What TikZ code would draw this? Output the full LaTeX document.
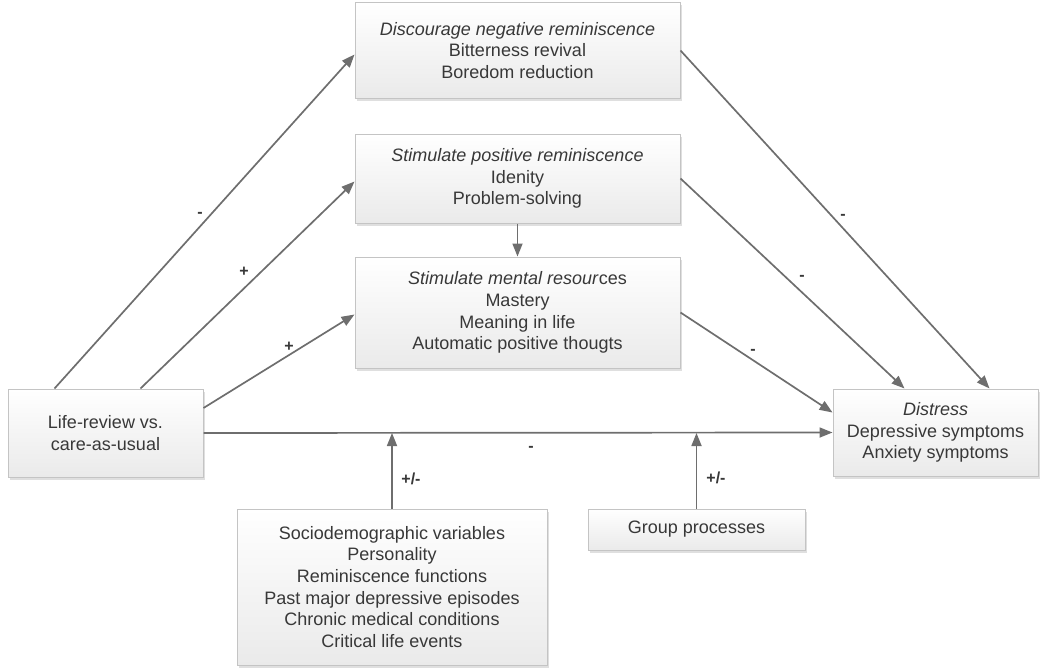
\documentclass[tikz,border=0pt]{standalone}
\usepackage{fontspec}
\setmainfont{Liberation Sans}
\usetikzlibrary{arrows.meta,shadows,calc}
\definecolor{linegray}{HTML}{6E6E6E}
\definecolor{boxedge}{HTML}{C4C4C4}
\definecolor{boxbottom}{HTML}{EAEAEA}
\definecolor{inkgray}{HTML}{383838}
\begin{document}
\begin{tikzpicture}[x=1pt,y=-1pt,
  box/.style={draw=boxedge, line width=1pt, top color=white, bottom color=boxbottom,
    drop shadow={shadow xshift=2pt,shadow yshift=-2.5pt,opacity=0.25},
    align=center, inner sep=0pt, text=inkgray, font=\fontsize{18}{21.7}\selectfont},
  link/.style={draw=linegray, line width=1.7pt, -{Triangle[length=13pt,width=10pt]}},
  sign/.style={text=inkgray, font=\fontsize{16}{19}\selectfont\bfseries, inner sep=0pt}]
\useasboundingbox (0,0) rectangle (1040,669);

% boxes
\node[box, minimum width=325pt, minimum height=95pt] (neg) at (517.5,50.5)
  {\textit{Discourage negative reminiscence}\\Bitterness revival\\Boredom reduction};
\node[box, minimum width=325pt, minimum height=89pt] (pos) at (517.5,178.5)
  {\textit{Stimulate positive reminiscence}\\Idenity\\Problem-solving};
\node[box, minimum width=325pt, minimum height=111pt] (res) at (517.5,312.5)
  {\textit{Stimulate mental resour}ces\\Mastery\\Meaning in life\\Automatic positive thougts};
\node[box, minimum width=195pt, minimum height=88pt] (life) at (105.5,433)
  {Life-review vs.\\care-as-usual};
\node[box, minimum width=205pt, minimum height=87pt] (dist) at (935.5,432.5)
  {\textit{Distress}\\Depressive symptoms\\Anxiety symptoms};
\node[box, minimum width=310pt, minimum height=156pt] (mod) at (392,587)
  {Sociodemographic variables\\Personality\\Reminiscence functions\\Past major depressive episodes\\Chronic medical conditions\\Critical life events};
\node[box, minimum width=217pt, minimum height=41pt] (grp) at (696.5,529.5)
  {Group processes};

% paths from the intervention
\draw[link] ([xshift=47pt]life.north west) -- ([yshift=-4pt]neg.west);
\draw[link] ([xshift=133pt]life.north west) -- ([yshift=-3pt]pos.west);
\draw[link] ([yshift=25pt]life.east) -- ([yshift=-2pt]res.west);
\draw[link] (life.east) -- (dist.west);

% paths to distress
\draw[link] (neg.east) -- ([xshift=157pt]dist.north west);
\draw[link] (pos.east) -- ([xshift=72pt]dist.north west);
\draw[link] (res.east) -- ([yshift=20pt]dist.west);
\draw[link] (pos.south) -- (res.north);

% moderators
\coordinate (mjoin) at (mod.north |- life.east);
\draw[link] (mod.north) -- (mjoin);
\coordinate (gjoin) at (grp.north |- life.east);
\draw[link] (grp.north) -- (gjoin);

% signs
\node[sign] (s1) at (200,215) {-};
\node[sign] (s2) at (244,272) {+};
\node[sign] (s3) at (289,347) {+};
\node[sign] (s4) at (843,217) {-};
\node[sign] (s5) at (802,278) {-};
\node[sign] (s6) at (753,352) {-};
\node[sign] (s7) at (531,449) {-};
\node[sign] (s8) at (411,479) {+/-};
\node[sign] (s9) at (716,478) {+/-};
\end{tikzpicture}
\end{document}
